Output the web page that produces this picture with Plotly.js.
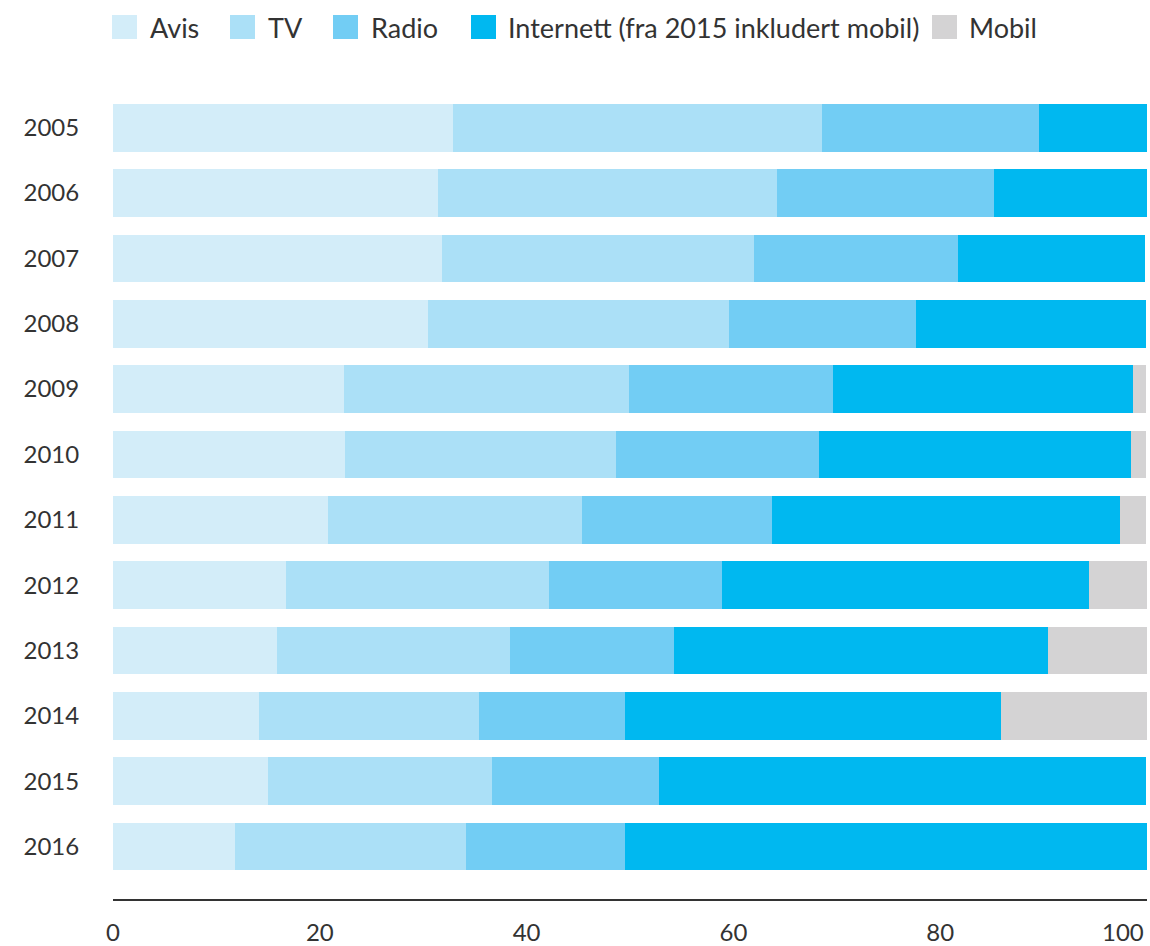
<!DOCTYPE html>
<html>
<head>
<meta charset="utf-8">
<script src="https://cdn.plot.ly/plotly-3.0.1.min.js"></script>
<style>
  html, body { margin: 0; padding: 0; background: #ffffff; }
  #chart { width: 1150px; height: 946px; }
</style>
</head>
<body>
<div id="chart"></div>
<script>
// ---- Data (percent shares per year) ----
var years = ['2005','2006','2007','2008','2009','2010','2011','2012','2013','2014','2015','2016'];
var avis      = [32.9, 31.4, 31.8, 30.5, 22.3, 22.4, 20.8, 16.7, 15.9, 14.1, 15.0, 11.8];
var tv        = [35.7, 32.8, 30.2, 29.1, 27.6, 26.2, 24.6, 25.5, 22.5, 21.3, 21.7, 22.3];
var radio     = [21.0, 21.0, 19.7, 18.1, 19.7, 19.7, 18.3, 16.7, 15.9, 14.1, 16.1, 15.4];
var internett = [10.4, 14.9, 18.1, 22.2, 29.0, 30.2, 33.7, 35.5, 36.1, 36.4, 47.1, 50.5];
var mobil     = [0, 0, 0, 0, 1.3, 1.4, 2.5, 5.6, 9.6, 14.1, 0, 0];

var seriesNames = ['Avis', 'TV', 'Radio', 'Internett (fra 2015 inkludert mobil)', 'Mobil'];
var seriesValues = [avis, tv, radio, internett, mobil];
var xTickVals = [0, 20, 40, 60, 80];
var xTickText = ['0', '20', '40', '60', '80'];
var lastTickLabel = '100';

// ---- Styling ----
var colors = ['#d3edf9', '#abe0f7', '#72cdf4', '#00b8f0', '#d4d3d4'];
var FONT = 'Lato, "Open Sans", sans-serif';
var TXT = '#333333';

var W = 1150, H = 946;
var M = {l: 113, r: 3, t: 95, b: 47};
var plotW = W - M.l - M.r, plotH = H - M.t - M.b;
function px2x(px) { return (px - M.l) / plotW; }
function py2y(py) { return (H - M.b - py) / plotH; }

var traces = seriesNames.map(function (name, i) {
  return {
    type: 'bar',
    orientation: 'h',
    name: name,
    y: years,
    x: seriesValues[i],
    marker: {color: colors[i], line: {width: 0}},
    hoverinfo: 'skip',
    showlegend: false
  };
});

// custom legend (large square swatches)
var legendSquares = [112, 230, 333, 471, 932];
var legendTexts = [148, 266, 369, 506, 967];
var shapes = [];
var annotations = [];
seriesNames.forEach(function (name, i) {
  shapes.push({
    type: 'rect', xref: 'paper', yref: 'paper',
    x0: px2x(legendSquares[i]), x1: px2x(legendSquares[i] + 25),
    y0: py2y(39), y1: py2y(15),
    fillcolor: colors[i], line: {width: 0}
  });
  annotations.push({
    xref: 'paper', yref: 'paper',
    x: px2x(legendTexts[i]), y: py2y(27),
    xanchor: 'left', yanchor: 'middle',
    text: name, showarrow: false,
    font: {family: FONT, size: 27, color: TXT}
  });
});
// last x tick label, pulled inside the page edge
annotations.push({
  xref: 'x', yref: 'paper',
  x: 100, y: py2y(931),
  xanchor: 'right', yanchor: 'middle', xshift: -2,
  borderpad: 0,
  text: lastTickLabel, showarrow: false,
  font: {family: FONT, size: 24, color: TXT}
});

var layout = {
  width: W, height: H,
  margin: M,
  paper_bgcolor: '#ffffff',
  plot_bgcolor: '#ffffff',
  barmode: 'stack',
  bargap: 0.27,
  showlegend: false,
  font: {family: FONT, color: TXT},
  xaxis: {
    range: [0, 100],
    tickvals: xTickVals,
    ticktext: xTickText,
    ticks: 'outside', ticklen: 11, tickcolor: 'rgba(0,0,0,0)',
    tickfont: {family: FONT, size: 24, color: TXT},
    showgrid: false, zeroline: false,
    showline: true, linecolor: '#333333', linewidth: 2,
    fixedrange: true
  },
  yaxis: {
    type: 'category',
    categoryorder: 'array', categoryarray: years,
    range: [11.803, -0.5],
    ticks: 'outside', ticklen: 28, tickcolor: 'rgba(0,0,0,0)',
    tickfont: {family: FONT, size: 24, color: TXT},
    showgrid: false, zeroline: false, showline: false,
    fixedrange: true
  },
  shapes: shapes,
  annotations: annotations
};

Plotly.newPlot('chart', traces, layout, {staticPlot: true, displayModeBar: false});
</script>
</body>
</html>
